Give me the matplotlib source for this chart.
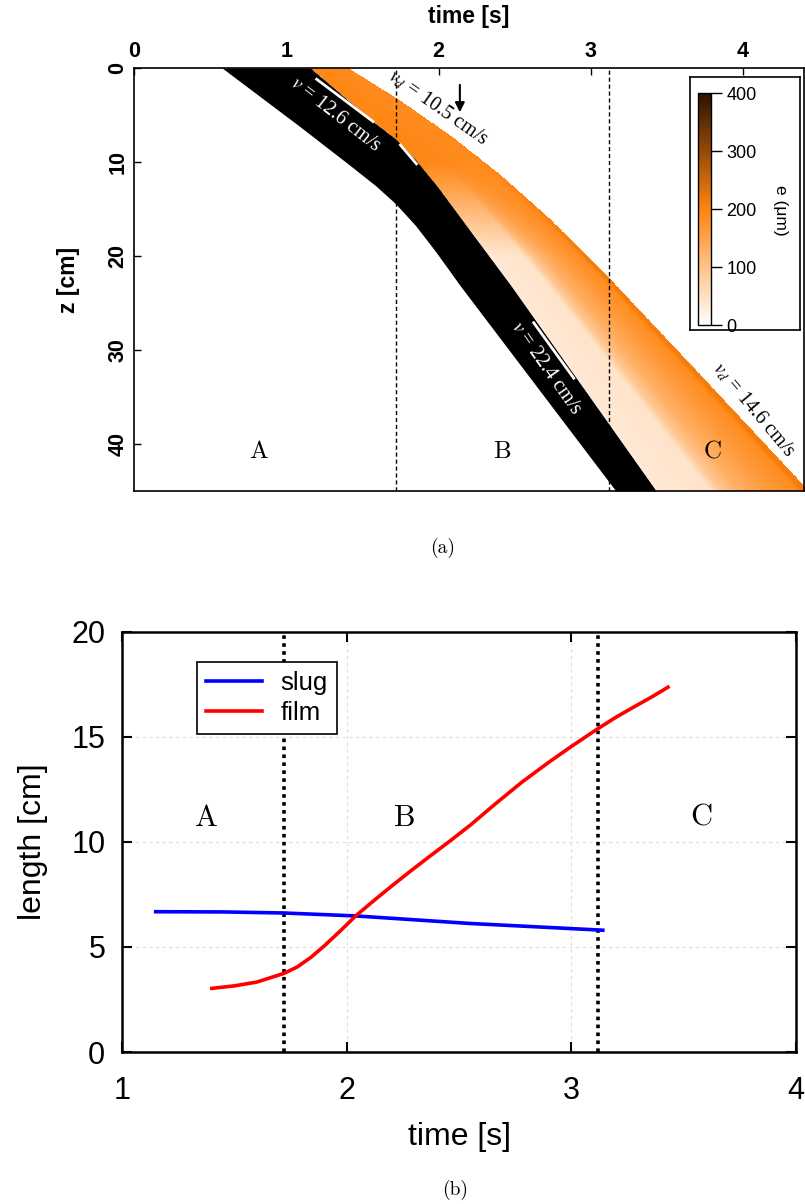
import numpy as np
import matplotlib
matplotlib.use('Agg')
import matplotlib.pyplot as plt
from matplotlib.colors import LinearSegmentedColormap

plt.rcParams['font.family'] = ['Liberation Sans', 'DejaVu Sans']
plt.rcParams['mathtext.fontset'] = 'stix'

# ---------------- panel (a) data: band edges ----------------
black_left_t = [0.579, 1.092, 1.421, 1.586, 1.717, 1.849, 1.980, 2.145, 3.158]
black_left_z = [0.0, 6.26, 10.39, 12.51, 14.42, 16.76, 19.51, 23.22, 44.86]
black_right_t = [1.158, 1.572, 1.717, 1.849, 1.993, 2.211, 2.474, 3.428, 3.44]
black_right_z = [0.0, 5.73, 7.53, 9.76, 12.62, 17.39, 23.12, 44.96, 45.2]
outer_t = [1.408, 1.750, 2.079, 2.408, 2.737, 3.118, 3.724, 4.414, 4.45]
outer_z = [0.0, 3.48, 7.19, 11.43, 16.20, 22.35, 32.77, 44.75, 45.3]
# film thickness profile across the film (fraction from slug edge to film front), in microns
film_f = [0.0, 0.35, 0.42, 0.55, 0.75, 0.92, 0.97, 1.0]
film_e_A = [195, 195, 193, 190, 188, 188, 195, 190]
film_e_B = [35, 45, 90, 130, 165, 185, 215, 200]
blend_z = [0, 10, 20]
blend_w = [0, 0, 1]
t_regions = [1.72, 3.12]
cbar_ticks = [0, 100, 200, 300, 400]
fitA_t, fitA_z = [1.20, 1.57], [1.2, 5.7]
fitA2_t, fitA2_z = [1.75, 1.855], [8.2, 10.2]
fitB_t, fitB_z = [2.625, 2.888], [27.1, 33.0]

# ---------------- panel (b) data ----------------
slug_t = [1.15, 1.45, 1.72, 2.04, 2.55, 3.14]
slug_len = [6.68, 6.67, 6.62, 6.48, 6.12, 5.80]
film_t = [1.40, 1.50, 1.60, 1.72, 1.78, 1.84, 1.90, 1.97, 2.04, 2.12, 2.20, 2.28, 2.36,
          2.46, 2.55, 2.66, 2.78, 2.90, 3.00, 3.12, 3.20, 3.28, 3.36, 3.43]
film_len = [3.03, 3.15, 3.33, 3.74, 4.05, 4.50, 5.05, 5.75, 6.48, 7.20, 7.90, 8.58, 9.24,
            10.05, 10.80, 11.80, 12.85, 13.80, 14.55, 15.41, 15.95, 16.44, 16.92, 17.37]

W, H = 805, 1204
fig = plt.figure(figsize=(W / 100, H / 100), dpi=100)


def fa(x0, y0, x1, y1):
    return [x0 / W, 1 - y1 / H, (x1 - x0) / W, (y1 - y0) / H]


cmap = LinearSegmentedColormap.from_list('film', ['#ffffff', '#ff8410', '#2a1200'])
cmap.set_bad((1, 1, 1, 0))

# ---------------- panel (a) ----------------
ax1 = fig.add_axes(fa(134, 68, 804, 491))
tmax, zmax = 4.4, 45.0
nt, nz = 1340, 900
tg = np.linspace(0, tmax, nt)
zg = np.linspace(0, zmax, nz)
T = np.tile(tg, (nz, 1))
tr = np.interp(zg, black_right_z, black_right_t)[:, None]
to = np.interp(zg, outer_z, outer_t)[:, None]
f = (T - tr) / (to - tr)
eA = np.interp(f, film_f, film_e_A)
eB = np.interp(f, film_f, film_e_B)
w = np.interp(zg, blend_z, blend_w)[:, None]
E = (1 - w) * eA + w * eB
E = np.where((f >= 0) & (f <= 1), E, np.nan)
im = ax1.imshow(E, extent=[0, tmax, zmax, 0], origin='upper', aspect='auto',
                cmap=cmap, vmin=0, vmax=400, interpolation='nearest')

zz = np.linspace(0, zmax, 600)
ax1.fill_betweenx(zz, np.interp(zz, black_left_z, black_left_t),
                  np.interp(zz, black_right_z, black_right_t), color='black', lw=0)

for tv in t_regions:
    ax1.axvline(tv, color='black', ls=(0, (3, 2)), lw=1)

ax1.plot(fitA_t, fitA_z, color='white', lw=2)
ax1.plot(fitA2_t, fitA2_z, color='white', lw=2)
ax1.plot(fitB_t, fitB_z, color='white', lw=2)

ax1.text(1.32, 5.0, r'$v$ = 12.6 cm/s', color='white', rotation=-38, ha='center', va='center',
         fontsize=14.5, family='Liberation Serif')
ax1.text(1.995, 4.2, r'$v_d$ = 10.5 cm/s', color='black', rotation=-35, ha='center', va='center',
         fontsize=14.5, family='Liberation Serif')
ax1.text(2.704, 31.9, r'$v$ = 22.4 cm/s', color='white', rotation=-55, ha='center', va='center',
         fontsize=14.5, family='Liberation Serif')
ax1.text(4.07, 36.4, r'$v_d$ = 14.6 cm/s', color='black', rotation=-50, ha='center', va='center',
         fontsize=14.5, family='Liberation Serif')
ax1.annotate('', xy=(2.14, 5.0), xytext=(2.14, 1.5),
             arrowprops=dict(arrowstyle='-|>', color='black', lw=1.5, mutation_scale=14))

for lab, tv in zip(['A', 'B', 'C'], [0.816, 2.42, 3.80]):
    ax1.text(tv, 40.85, lab, fontsize=18, family='cmr10', ha='center', va='center')

ax1.set_xlim(0, tmax)
ax1.set_ylim(zmax, 0)
ax1.xaxis.tick_top()
ax1.xaxis.set_label_position('top')
ax1.set_xticks([0, 1, 2, 3, 4])
ax1.set_yticks([0, 10, 20, 30, 40])
ax1.tick_params(direction='in', length=5, width=1, labelsize=15.5, pad=4)
for lbl in ax1.get_xticklabels():
    lbl.set_fontweight('bold')
for lbl in ax1.get_yticklabels():
    lbl.set_fontweight('bold')
    lbl.set_rotation(90)
    lbl.set_va('center')
ax1.set_xlabel('time [s]', fontsize=16.5, fontweight='bold', labelpad=13)
ax1.set_ylabel('z [cm]', fontsize=16.5, fontweight='bold', labelpad=20)
for sp in ax1.spines.values():
    sp.set_linewidth(1.2)

# colorbar box
axbox = fig.add_axes(fa(690, 77, 800, 330))
axbox.set_xticks([])
axbox.set_yticks([])
axbox.set_facecolor('white')
for sp in axbox.spines.values():
    sp.set_linewidth(1.2)
cax = fig.add_axes(fa(698, 93, 711, 325))
cb = fig.colorbar(im, cax=cax, ticks=cbar_ticks)
cb.outline.set_linewidth(1)
cax.tick_params(length=8, width=1, labelsize=13, pad=3)
fig.text(780 / W, 1 - 210 / H, 'e (\u03bcm)', rotation=270, ha='center', va='center', fontsize=12.5)

fig.text(443 / W, 1 - 548 / H, '(a)', ha='center', va='center', fontsize=14, family='cmr10')

# ---------------- panel (b) ----------------
ax2 = fig.add_axes(fa(122, 632, 796, 1052))
ax2.grid(True, color='#dddddd', ls=(0, (3, 3)), lw=0.8)
ax2.set_axisbelow(True)
for tv in t_regions:
    ax2.axvline(tv, color='black', ls=(0, (1, 1.2)), lw=2.6, zorder=3)
ax2.plot(slug_t, slug_len, color='#0000ff', lw=2.6, label='slug', zorder=4)
ax2.plot(film_t, film_len, color='#ff0000', lw=2.6, label='film', zorder=4)
for lab, tv in zip(['A', 'B', 'C'], [1.378, 2.259, 3.58]):
    ax2.text(tv, 11.14, lab, fontsize=22, family='cmr10', ha='center', va='center')
ax2.set_xlim(1, 4)
ax2.set_ylim(0, 20)
ax2.set_xticks([1, 2, 3, 4])
ax2.set_yticks([0, 5, 10, 15, 20])
ax2.tick_params(direction='in', length=7, width=1.5, labelsize=22, top=True, right=True, pad=12)
ax2.tick_params(axis='x', pad=17)
ax2.set_xlabel('time [s]', fontsize=23, labelpad=12)
ax2.set_ylabel('length [cm]', fontsize=23, labelpad=17)
for sp in ax2.spines.values():
    sp.set_linewidth(1.8)
leg = ax2.legend(loc='upper left', bbox_to_anchor=(0.111, 0.929), fontsize=18.5, fancybox=False,
                 edgecolor='black', framealpha=1, borderaxespad=0, handlelength=2.2,
                 labelspacing=0.25, borderpad=0.35, handletextpad=0.7)
leg.get_frame().set_linewidth(1.2)

fig.text(455 / W, 1 - 1190 / H, '(b)', ha='center', va='center', fontsize=14, family='cmr10')

fig.savefig('out.png', dpi=100)
